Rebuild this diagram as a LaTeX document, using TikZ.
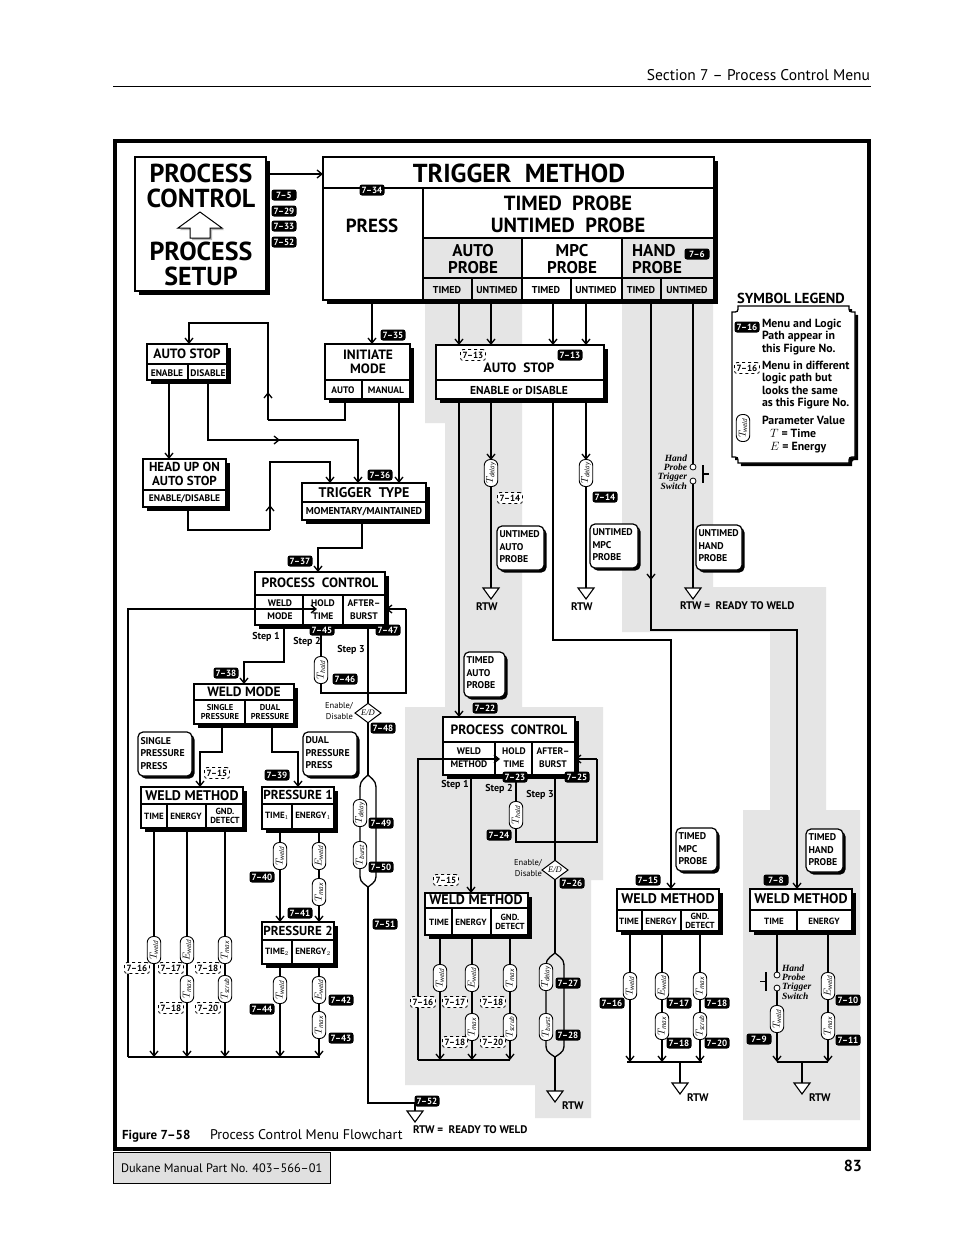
\documentclass[tikz,border=0pt]{standalone}
\usepackage{fontspec}
\setmainfont{PT Sans}
\newfontfamily\swfont{Liberation Serif}
\usetikzlibrary{arrows.meta,shapes.geometric}
\definecolor{band}{gray}{0.9}
\definecolor{foot}{gray}{0.88}
\newcommand{\fsz}[2]{\fontsize{#1}{#2}\selectfont}
\newcounter{nd}
\newcommand{\Bdg}[3]{\stepcounter{nd}\node[bdg] (bd\arabic{nd}) at (#1,#2) {#3};}
\newcommand{\Dbdg}[3]{\stepcounter{nd}\node[dbdg] (db\arabic{nd}) at (#1,#2) {#3};}
\newcommand{\Capsule}[4]{\stepcounter{nd}\node[capn] (cp\arabic{nd}) at (#1,#2) {$#3_{\mathit{#4}}$};}
\newcommand{\MBox}[4]{\fill (#1+3.5,#2+3.5) rectangle (#3+3.5,#4+3.5);\draw[line width=2.2,fill=white] (#1,#2) rectangle (#3,#4);}
\newcommand{\NBox}[4]{\fill[rounded corners=5pt] (#1+2.5,#2+2.5) rectangle (#3+2.5,#4+2.5);\draw[line width=1.2,fill=white,rounded corners=5pt] (#1,#2) rectangle (#3,#4);}
\newcommand{\Rtw}[2]{\draw[line width=1.1,fill=white] (#1-8,#2) -- (#1+8,#2) -- (#1,#2+11) -- cycle;}
\newcommand{\Txt}[4]{\stepcounter{nd}\node[#1] (tx\arabic{nd}) at (#2,#3) {#4};}
\tikzset{
  every node/.style={inner sep=0pt,outer sep=0pt},
  ln/.style={line width=1.3},
  arr/.style={line width=1.3,-{Straight Barb[length=5pt,width=8pt,line width=1.3pt]}},
  dv/.style={line width=1.3},
  bdg/.style={fill=black,text=white,rounded corners=2.5pt,minimum width=25pt,minimum height=11pt,font=\bfseries\fsz{9}{9}},
  dbdg/.style={draw,dashed,line width=0.8,fill=white,rounded corners=2.5pt,minimum width=25pt,minimum height=11pt,font=\bfseries\fsz{9}{9}},
  capn/.style={draw,fill=white,line width=0.9,rotate=90,rounded corners=6pt,minimum width=27pt,minimum height=13.5pt,font=\fsz{10}{10}},
  ttl/.style={font=\bfseries\fsz{13.5}{14},align=center},
  wmt/.style={font=\bfseries\fsz{14}{14},align=center},
  cel/.style={font=\bfseries\fsz{9.5}{13},align=center},
  wcel/.style={font=\bfseries\fsz{9}{10},align=center},
  gnd/.style={font=\bfseries\fsz{8.8}{9.5},align=center},
  nte/.style={font=\bfseries\fsz{9.8}{12.5},align=left,anchor=north west},
  stp/.style={font=\bfseries\fsz{10}{10}},
  edd/.style={diamond,draw,fill=white,line width=1,minimum width=26pt,minimum height=19pt,font=\swfont\itshape\fsz{8.5}{8.5}},
  sml/.style={font=\fsz{8.5}{10.5},align=right,anchor=east},
  rtwl/.style={font=\bfseries\fsz{11}{11},anchor=west},
  lgd/.style={font=\bfseries\fsz{11.8}{12.5},align=left,anchor=north west},
  swt/.style={font=\swfont\bfseries\itshape\fsz{9.5}{9.3}},
}
\begin{document}
\begin{tikzpicture}[x=1pt,y=-1pt]
\useasboundingbox (0,0) rectangle (954,1235);
\fill[white] (0,0) rectangle (954,1235);
% ---------- grey bands
\fill[band] (425,300) -- (522,300) -- (522,707) -- (603,707) -- (603,880) -- (591,880) -- (591,1118) -- (535,1118) -- (535,1085) -- (405,1085) -- (405,707) -- (445,707) -- (445,423) -- (425,423) -- cycle;
\fill[band] (622,300) -- (713,300) -- (713,587) -- (826,587) -- (826,810) -- (860,810) -- (860,1120) -- (743,1120) -- (743,810) -- (770,810) -- (770,632) -- (622,632) -- cycle;
% ---------- page header / footer
\Txt{font=\fsz{15.5}{16},anchor=base east}{870}{80}{Section 7 – Process Control Menu}
\draw[line width=0.9] (113,86) -- (871,86);
\draw[line width=4] (115,141) rectangle (869,1149);
\Txt{font=\bfseries\fsz{13}{13},anchor=base west}{122}{1139}{Figure 7–58}
\Txt{font=\fsz{14}{14},anchor=base west}{210}{1139}{Process Control Menu Flowchart}
\draw[line width=0.7,fill=foot] (113,1152) rectangle (330,1183);
\Txt{font=\fsz{12.3}{13},anchor=base west}{121}{1172}{Dukane Manual Part No. 403–566–01}
\Txt{font=\bfseries\fsz{16}{16},anchor=base east}{862}{1171}{83}
% ---------- process control / setup box
\MBox{135}{157}{266}{291}
\node[font=\bfseries\fsz{26}{25},align=center] (pctl) at (201,186) {PROCESS\\CONTROL};
\node[font=\bfseries\fsz{26}{25},align=center] (pset) at (201,264) {PROCESS\\SETUP};
\fill[gray!55] (202,215) -- (224,230) -- (212,230) -- (212,240) -- (192,240) -- (192,230) -- (180,230) -- cycle;
\draw[line width=1,fill=white] (200,212) -- (222,228) -- (210,228) -- (210,238) -- (190,238) -- (190,228) -- (178,228) -- cycle;
\coordinate (pcout) at (266,174);
\coordinate (tmin) at (323,174);
\draw[arr] (pcout) -- (tmin);
\Bdg{284}{195}{7–5}
\Bdg{284}{211}{7–29}
\Bdg{284}{226}{7–33}
\Bdg{284}{242}{7–52}
% ---------- trigger method box
\MBox{323}{157}{714}{300}
\fill[band] (423,238) rectangle (522,300);
\fill[band] (622,238) rectangle (714,300);
\draw[line width=2] (323,188) -- (714,188);
\draw[dv] (423,188) -- (423,300) (423,238) -- (714,238) (522,238) -- (522,300) (622,238) -- (622,300)
  (423,278) -- (714,278) (472,278) -- (472,300) (571,278) -- (571,300) (661,278) -- (661,300);
\draw[line width=2.2] (323,157) rectangle (714,300);
\node[font=\bfseries\fsz{26}{26}] (tmt) at (519,173) {TRIGGER\ \ METHOD};
\node[font=\bfseries\fsz{19}{19}] (press) at (372,226) {PRESS};
\node[font=\bfseries\fsz{20.5}{22},align=center] (tprb) at (568,214) {TIMED\ \ PROBE\\UNTIMED\ \ PROBE};
\node[font=\bfseries\fsz{17}{17},align=center] (aprb) at (473,259) {AUTO\\PROBE};
\node[font=\bfseries\fsz{17}{17},align=center] (mprb) at (572,259) {MPC\\PROBE};
\node[font=\bfseries\fsz{17}{17},align=left] (hprb) at (657,259) {HAND\\PROBE};
\Bdg{697}{254}{7–6}
\Bdg{372}{190}{7–34}
\Txt{font=\bfseries\fsz{10}{10}}{447}{290}{TIMED}
\Txt{font=\bfseries\fsz{10}{10}}{497}{290}{UNTIMED}
\Txt{font=\bfseries\fsz{10}{10}}{546}{290}{TIMED}
\Txt{font=\bfseries\fsz{10}{10}}{596}{290}{UNTIMED}
\Txt{font=\bfseries\fsz{10}{10}}{641}{290}{TIMED}
\Txt{font=\bfseries\fsz{10}{10}}{687}{290}{UNTIMED}
% ---------- left column: auto stop / initiate / head up / trigger type
\MBox{147}{344}{227}{380}
\draw[dv] (147,364) -- (227,364) (188,364) -- (188,380);
\Txt{ttl}{187}{354}{AUTO STOP}
\Txt{cel}{167}{373}{ENABLE}
\Txt{cel}{208}{373}{DISABLE}
\MBox{325}{344}{410}{399}
\draw[dv] (325,380) -- (410,380) (362,380) -- (362,399);
\Txt{ttl}{368}{362}{INITIATE\\MODE}
\Txt{cel}{343}{390}{AUTO}
\Txt{cel}{386}{390}{MANUAL}
\Bdg{393}{335}{7–35}
\MBox{143}{459}{226}{507}
\draw[dv] (143,490) -- (226,490);
\Txt{font=\bfseries\fsz{13}{14},align=center}{184.5}{474}{HEAD UP ON\\AUTO STOP}
\Txt{cel}{184.5}{499}{ENABLE/DISABLE}
\MBox{302}{483}{426}{520}
\draw[dv] (302,502) -- (426,502);
\Txt{font=\bfseries\fsz{14}{14}}{364}{493}{TRIGGER\ \ TYPE}
\Txt{font=\bfseries\fsz{10}{10}}{364}{512}{MOMENTARY/MAINTAINED}
\Bdg{380}{475}{7–36}
\Bdg{300}{561}{7–37}
% connectors
\draw[arr] (372,300) -- (372,344);
\draw[ln] (345,399) |- (268,420);
\draw[arr] (268,420) -- (268,392);
\draw[arr] (268,394) |- (189,323) -- (189,344);
\draw[arr] (169,380) -- (169,459);
\draw[arr] (208,380) |- (280,440);
\draw[arr] (276,440) -| (358,483);
\draw[arr] (399,399) -- (399,483);
\draw[ln] (188,507) |- (270,530);
\draw[arr] (270,530) -- (270,505);
\draw[arr] (270,507) |- (330,462) -- (330,483);
\draw[arr] (362,520) |- (318,548) -- (318,572);
% ---------- process control (left)
\MBox{255}{572}{385}{625}
\draw[dv] (255,595) -- (385,595) (303,595) -- (303,625) (343,595) -- (343,625);
\Txt{ttl}{320}{583}{PROCESS\ \ CONTROL}
\Txt{cel}{280}{610}{WELD\\MODE}
\Txt{cel}{323}{610}{HOLD\\TIME}
\Txt{cel}{364}{610}{AFTER–\\BURST}
\draw[arr] (128,1057) |- (317,609);
\draw[ln] (128,1057) -- (320,1057);
\draw[arr] (284,625) |- (244,662) -- (244,684);
\draw[ln] (321,625) -- (321,693) -| (406,609);
\draw[arr] (406,609) -- (386,609);
\draw[ln] (368,625) -- (368,775);
\Bdg{322}{630}{7–45}
\Bdg{388}{630}{7–47}
\Txt{stp}{266}{637}{Step 1}
\Txt{stp}{307}{642}{Step 2}
\Txt{stp}{351}{650}{Step 3}
\Bdg{226}{673}{7–38}
\Capsule{321}{670}{T}{hold}
\Bdg{345}{679}{7–46}
\node[edd] (ed1) at (368,713) {E/D};
\Txt{sml}{353}{711}{Enable/\\Disable}
\Bdg{383}{728}{7–48}
% lens left
\draw[ln] (368,775) .. controls (360,782) .. (360,792) -- (360,872) .. controls (360,881) .. (368,887);
\draw[ln] (368,775) .. controls (376,782) .. (376,792) -- (376,872) .. controls (376,881) .. (368,887);
\draw[ln] (368,887) |- (415,1103) -- (415,1111);
\Rtw{415}{1111}
\Capsule{360}{813}{T}{delay}
\Capsule{360}{855}{T}{burst}
\Bdg{381}{823}{7–49}
\Bdg{381}{867}{7–50}
\Bdg{385}{924}{7–51}
\Bdg{427}{1101}{7–52}
\Txt{rtwl}{413}{1130}{RTW =\ \ READY TO WELD}
% weld mode
\MBox{194}{684}{294}{724}
\draw[dv] (194,700) -- (294,700) (245,700) -- (245,724);
\Txt{ttl}{244}{692}{WELD MODE}
\Txt{font=\bfseries\fsz{8.5}{9.5},align=center}{220}{712}{SINGLE\\PRESSURE}
\Txt{font=\bfseries\fsz{8.5}{9.5},align=center}{270}{712}{DUAL\\PRESSURE}
\draw[arr] (222,724) |- (200,752) -- (200,787);
\draw[arr] (272,724) |- (298,752) -- (298,787);
\NBox{138}{732}{192}{776}
\Txt{nte}{140.5}{737}{SINGLE\\PRESSURE\\PRESS}
\NBox{303}{732}{357}{776}
\Txt{nte}{305.5}{737}{DUAL\\PRESSURE\\PRESS}
\Dbdg{217}{773}{7–15}
\Bdg{277}{775}{7–39}
% weld method left
\MBox{141}{787}{243}{828}
\draw[dv] (141,804) -- (243,804) (167,804) -- (167,828) (206,804) -- (206,828);
\Txt{wmt}{192}{796}{WELD METHOD}
\Txt{wcel}{154}{816}{TIME}
\Txt{wcel}{186}{816}{ENERGY}
\Txt{gnd}{225}{816}{GND.\\DETECT}
\draw[arr] (154,828) -- (154,1057);
\draw[arr] (187,828) -- (187,1057);
\draw[arr] (225,828) -- (225,1057);
\Capsule{154}{950}{T}{weld}
\Capsule{187}{950}{E}{weld}
\Capsule{225}{950}{T}{max}
\Capsule{187}{989}{T}{max}
\Capsule{225}{989}{T}{scrub}
\Dbdg{137}{968}{7–16}
\Dbdg{171}{968}{7–17}
\Dbdg{208}{968}{7–18}
\Dbdg{171}{1008}{7–18}
\Dbdg{208}{1008}{7–20}
% pressure 1 / 2
\MBox{262}{787}{334}{829}
\draw[dv] (262,804) -- (334,804) (292,804) -- (292,829);
\Txt{font=\bfseries\fsz{13}{13}}{298}{795}{PRESSURE 1}
\Txt{wcel}{277}{816}{TIME$_1$}
\Txt{wcel}{313}{816}{ENERGY$_1$}
\draw[arr] (280,829) -- (280,922);
\draw[arr] (319,829) -- (319,922);
\Capsule{280}{856}{T}{weld}
\Capsule{319}{856}{E}{weld}
\Capsule{319}{892}{T}{max}
\Bdg{262}{877}{7–40}
\Bdg{300}{913}{7–41}
\MBox{262}{922}{334}{964}
\draw[dv] (262,940) -- (334,940) (292,940) -- (292,964);
\Txt{font=\bfseries\fsz{13}{13}}{298}{931}{PRESSURE 2}
\Txt{wcel}{277}{952}{TIME$_2$}
\Txt{wcel}{313}{952}{ENERGY$_2$}
\draw[arr] (280,964) -- (280,1057);
\draw[arr] (319,964) -- (319,1057);
\Capsule{280}{990}{T}{weld}
\Capsule{319}{990}{E}{weld}
\Capsule{319}{1025}{T}{max}
\Bdg{262}{1009}{7–44}
\Bdg{341}{1000}{7–42}
\Bdg{341}{1038}{7–43}
% ---------- auto stop (centre)
\draw[arr] (459,300) -- (459,345);
\draw[arr] (491,300) -- (491,345);
\draw[arr] (553,300) -- (553,345);
\draw[arr] (586,300) -- (586,345);
\MBox{436}{345}{604}{399}
\draw[dv] (436,380) -- (604,380);
\Txt{font=\bfseries\fsz{13.5}{13}}{519}{368}{AUTO\ \ STOP}
\Txt{font=\bfseries\fsz{11.5}{11}}{519}{390}{ENABLE or DISABLE}
\Dbdg{473}{355}{7–13}
\Bdg{570}{355}{7–13}
\draw[arr] (459,399) -- (459,717);
\draw[arr] (491,399) -- (491,460);
\draw[ln] (491,486) -- (491,588);
\Rtw{491}{588}
\draw[arr] (586,399) -- (586,460);
\draw[ln] (586,486) -- (586,588);
\Rtw{586}{588}
\Capsule{491}{473}{T}{delay}
\Capsule{586}{473}{T}{delay}
\Dbdg{510}{498}{7–14}
\Bdg{605}{497}{7–14}
\NBox{497}{526}{544}{570}
\Txt{nte}{499.5}{531}{UNTIMED\\AUTO\\PROBE}
\NBox{590}{524}{638}{568}
\Txt{nte}{592.5}{529}{UNTIMED\\MPC\\PROBE}
\Txt{rtwl}{476}{607}{RTW}
\Txt{rtwl}{571}{607}{RTW}
% hand untimed
\draw[ln] (693,300) -- (693,464);
\draw[ln] (693,484) -- (693,588);
\draw[line width=0.8,fill=white] (693,467) circle (3) (693,481) circle (3);
\draw[line width=2] (703,465) -- (703,483);
\draw[ln] (703,474) -- (709,474);
\Txt{swt,align=right,anchor=east}{687}{472}{Hand\\Probe\\Trigger\\Switch}
\Rtw{693}{588}
\NBox{696}{525}{742}{570}
\Txt{nte}{698.5}{530}{UNTIMED\\HAND\\PROBE}
\Txt{rtwl}{680}{606}{RTW =\ \ READY TO WELD}
% timed paths
\draw[arr] (651,300) -- (651,580);
\draw[arr] (651,578) |- (797,630) -- (797,889);
\draw[arr] (553,399) |- (671,640) -- (671,889);
% ---------- legend
\Txt{font=\bfseries\fsz{14.5}{14}}{791}{298}{SYMBOL LEGEND}
\fill (741,309) -- (852,309) .. controls (852,315) .. (858,315) -- (858,460) .. controls (852,460) .. (852,466) -- (741,466) .. controls (741,460) .. (735,460) -- (735,315) .. controls (741,315) .. (741,309) -- cycle;
\draw[line width=1.3,fill=white] (738,306) -- (849,306) .. controls (849,312) .. (855,312) -- (855,457) .. controls (849,457) .. (849,463) -- (738,463) .. controls (738,457) .. (732,457) -- (732,312) .. controls (738,312) .. (738,306) -- cycle;
\Bdg{747}{327}{7–16}
\Txt{lgd}{762}{319}{Menu and Logic\\Path appear in\\this Figure No.}
\Dbdg{747}{368}{7–16}
\Txt{lgd}{762}{361}{Menu in different\\logic path but\\looks the same\\as this Figure No.}
\Capsule{743}{428}{T}{weld}
\Txt{lgd}{762}{416}{Parameter Value}
\Txt{lgd}{770}{429}{$T$ = Time}
\Txt{lgd}{770}{442}{$E$ = Energy}
% ---------- centre process control
\NBox{464}{652}{505}{697}
\Txt{nte}{466.5}{657}{TIMED\\AUTO\\PROBE}
\Bdg{485}{708}{7–22}
\MBox{443}{717}{575}{775}
\draw[dv] (443,742) -- (575,742) (495,742) -- (495,775) (532,742) -- (532,775);
\Txt{ttl}{509}{730}{PROCESS\ \ CONTROL}
\Txt{cel}{469}{758}{WELD\\METHOD}
\Txt{cel}{514}{758}{HOLD\\TIME}
\Txt{cel}{553}{758}{AFTER–\\BURST}
\draw[arr] (418,1060) |- (500,759);
\draw[ln] (418,1060) -- (510,1060);
\draw[arr] (471,775) -- (471,893);
\draw[ln] (516,775) -- (516,842) -| (597,759);
\draw[arr] (597,759) -- (575,759);
\draw[ln] (555,775) -- (555,953);
\Bdg{515}{777}{7–23}
\Bdg{577}{777}{7–25}
\Txt{stp}{455}{785}{Step 1}
\Txt{stp}{499}{789}{Step 2}
\Txt{stp}{540}{795}{Step 3}
\Capsule{516}{815}{T}{hold}
\Bdg{499}{835}{7–24}
\node[edd] (ed2) at (555,870) {E/D};
\Txt{sml}{542}{868}{Enable/\\Disable}
\Bdg{572}{883}{7–26}
\Dbdg{446}{880}{7–15}
\draw[ln] (555,953) .. controls (546,960) .. (546,970) -- (546,1042) .. controls (546,1051) .. (555,1057);
\draw[ln] (555,953) .. controls (564,960) .. (564,970) -- (564,1042) .. controls (564,1051) .. (555,1057);
\draw[ln] (555,1057) -- (555,1091);
\Rtw{555}{1091}
\Txt{rtwl}{562}{1106}{RTW}
\Capsule{546}{977}{T}{delay}
\Capsule{546}{1027}{T}{burst}
\Bdg{568}{983}{7–27}
\Bdg{568}{1035}{7–28}
% centre weld method
\MBox{425}{893}{528}{935}
\draw[dv] (425,908) -- (528,908) (452,908) -- (452,935) (491,908) -- (491,935);
\Txt{wmt}{476}{900}{WELD METHOD}
\Txt{wcel}{439}{922}{TIME}
\Txt{wcel}{471}{922}{ENERGY}
\Txt{gnd}{510}{922}{GND.\\DETECT}
\draw[arr] (440,935) -- (440,1060);
\draw[arr] (472,935) -- (472,1060);
\draw[arr] (510,935) -- (510,1060);
\Capsule{440}{978}{T}{weld}
\Capsule{472}{978}{E}{weld}
\Capsule{510}{978}{T}{max}
\Capsule{472}{1027}{T}{max}
\Capsule{510}{1027}{T}{scrub}
\Dbdg{423}{1002}{7–16}
\Dbdg{455}{1002}{7–17}
\Dbdg{493}{1002}{7–18}
\Dbdg{455}{1042}{7–18}
\Dbdg{493}{1042}{7–20}
% ---------- MPC weld method
\NBox{676}{828}{717}{871}
\Txt{nte}{678.5}{833}{TIMED\\MPC\\PROBE}
\Bdg{648}{880}{7–15}
\MBox{617}{889}{719}{931}
\draw[dv] (617,910) -- (719,910) (642,910) -- (642,931) (681,910) -- (681,931);
\Txt{wmt}{668}{899}{WELD METHOD}
\Txt{wcel}{629}{921}{TIME}
\Txt{wcel}{661}{921}{ENERGY}
\Txt{gnd}{700}{921}{GND.\\DETECT}
\draw[arr] (630,931) -- (630,1062);
\draw[arr] (662,931) -- (662,1062);
\draw[arr] (700,931) -- (700,1062);
\draw[ln] (627,1062) -- (702,1062);
\draw[ln] (680,1062) -- (680,1083);
\Rtw{680}{1083}
\Txt{rtwl}{687}{1098}{RTW}
\Capsule{630}{986}{T}{weld}
\Capsule{662}{986}{E}{weld}
\Capsule{700}{986}{T}{max}
\Capsule{662}{1026}{T}{max}
\Capsule{700}{1026}{T}{scrub}
\Bdg{612}{1003}{7–16}
\Bdg{679}{1003}{7–17}
\Bdg{717}{1003}{7–18}
\Bdg{679}{1043}{7–18}
\Bdg{717}{1043}{7–20}
% ---------- hand weld method
\NBox{806}{829}{843}{872}
\Txt{nte}{808.5}{834}{TIMED\\HAND\\PROBE}
\Bdg{776}{880}{7–8}
\MBox{750}{889}{852}{931}
\draw[dv] (750,910) -- (852,910) (797,910) -- (797,931);
\Txt{wmt}{801}{899}{WELD METHOD}
\Txt{wcel}{774}{921}{TIME}
\Txt{wcel}{824}{921}{ENERGY}
\draw[ln] (777,931) -- (777,972);
\draw[arr] (777,991) -- (777,1062);
\draw[arr] (828,931) -- (828,1062);
\draw[ln] (777,1062) -- (828,1062);
\draw[line width=0.8,fill=white] (777,975) circle (3) (777,988) circle (3);
\draw[line width=2] (766,972) -- (766,991);
\draw[ln] (760,981.5) -- (766,981.5);
\Txt{swt,align=left,anchor=west}{782}{982}{Hand\\Probe\\Trigger\\Switch}
\draw[ln] (802,1062) -- (802,1083);
\Rtw{802}{1083}
\Txt{rtwl}{809}{1098}{RTW}
\Capsule{777}{1019}{T}{weld}
\Capsule{828}{986}{E}{weld}
\Capsule{828}{1026}{T}{max}
\Bdg{759}{1039}{7–9}
\Bdg{848}{1000}{7–10}
\Bdg{848}{1040}{7–11}
\end{tikzpicture}
\end{document}
